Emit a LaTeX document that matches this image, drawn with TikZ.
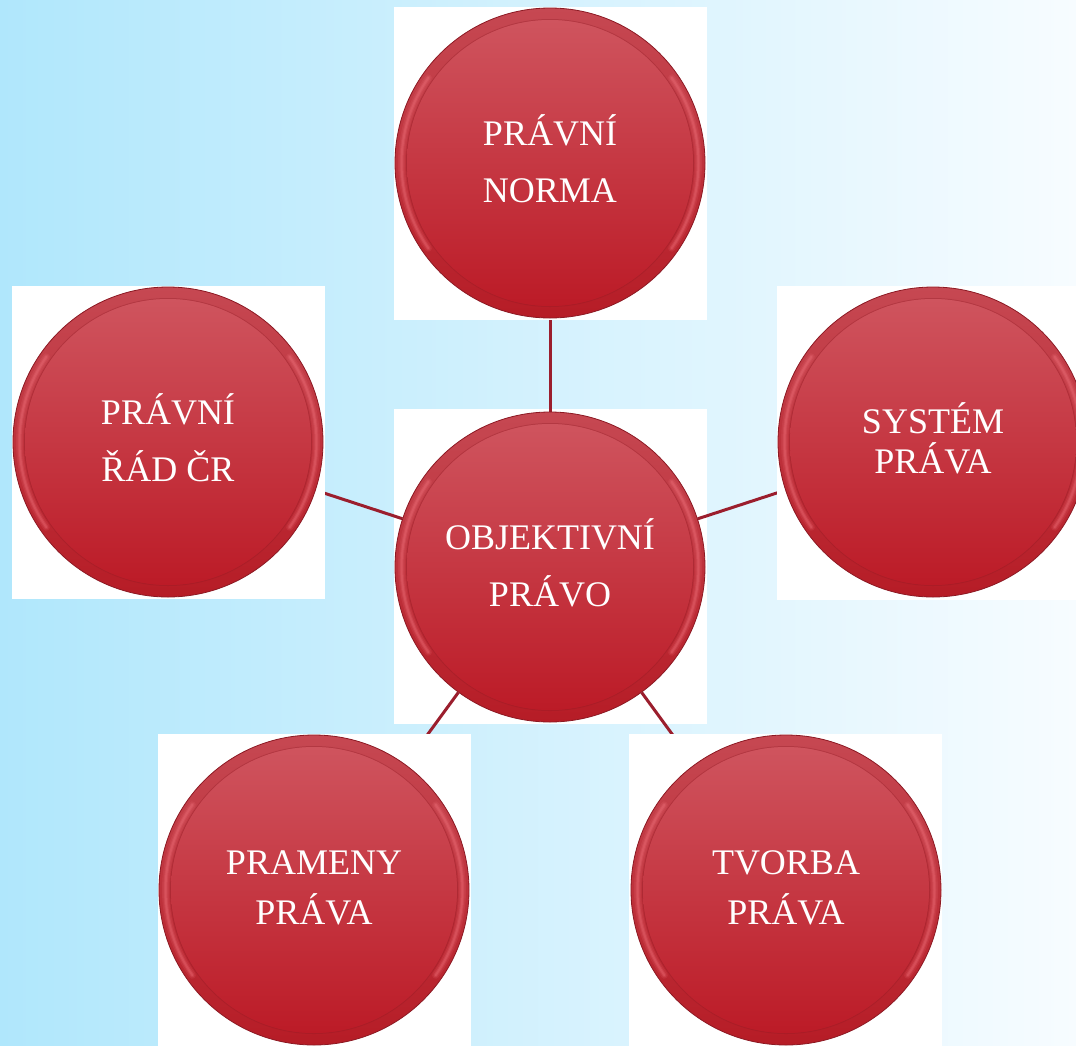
\documentclass[tikz,border=0pt]{standalone}
\usepackage{fontspec}
\setmainfont{Liberation Serif}
\pgfdeclarelayer{bgl}
\pgfdeclarelayer{linel}
\pgfdeclarelayer{boxl}
\pgfsetlayers{bgl,linel,boxl,main}
\definecolor{bgleft}{RGB}{176,231,252}
\definecolor{bgmid}{RGB}{220,244,253}
\definecolor{bgright}{RGB}{247,252,255}
\definecolor{rimtop}{RGB}{198,72,82}
\definecolor{rimmid}{RGB}{208,48,60}
\definecolor{rimbot}{RGB}{182,28,38}
\definecolor{hlpink}{RGB}{244,118,128}
\definecolor{discA}{RGB}{207,84,94}
\definecolor{discB}{RGB}{203,38,52}
\definecolor{discC}{RGB}{188,27,39}
\definecolor{edgered}{RGB}{140,25,35}
\definecolor{linkred}{RGB}{155,30,45}
\newcommand\padA{\rule[-8pt]{0pt}{8pt}}
\newcommand\padB{\rule[-5pt]{0pt}{5pt}}
\tikzset{
  hlarc/.style={hlpink, line cap=round},
  bubble/.style={circle, minimum size=310pt, inner sep=0pt, text=white, align=center,
    top color=rimtop, middle color=rimmid, bottom color=rimbot, draw=edgered, line width=0.8pt,
    path picture={
      \foreach \w/\o in {7/0.15, 4/0.2, 2/0.25}{
        \draw[hlarc, opacity=\o, line width=\w pt]
          ([shift={(145:148.5pt)}]path picture bounding box.center) arc[start angle=145, end angle=215, radius=148.5pt];
        \draw[hlarc, opacity=\o, line width=\w pt]
          ([shift={(-35:148.5pt)}]path picture bounding box.center) arc[start angle=-35, end angle=35, radius=148.5pt];
      }
      \draw[edgered, opacity=0.3, line width=1pt] (path picture bounding box.center) circle (143.5pt);
      \shade[top color=discA, middle color=discB, bottom color=discC]
        (path picture bounding box.center) circle (143pt);
    }},
  lsp/.style={font=\fontsize{36}{#1}\selectfont},
  link/.style={draw=linkred, line width=3pt},
  whitebox/.style={fill=white, draw=none},
}
\begin{document}
\begin{tikzpicture}[x=1pt,y=-1pt]
\useasboundingbox (0,0) rectangle (1076,1045);
\clip (0,0) rectangle (1076,1045);
\node[bubble, lsp=57] (top) at (550,163) {PRÁVNÍ\\NORMA\padA};
\node[bubble, lsp=57] (obj) at (550,567) {OBJEKTIVNÍ\\PRÁVO\padA};
\node[bubble, lsp=57] (rad) at (168,442) {PRÁVNÍ\\ŘÁD ČR\padA};
\node[bubble, lsp=40] (sys) at (933,442) {SYSTÉM\\PRÁVA\padA};
\node[bubble, lsp=50] (pram) at (314,890) {PRAMENY\\PRÁVA\padB};
\node[bubble, lsp=50] (tvor) at (786,890) {TVORBA\\PRÁVA\padB};
\begin{pgfonlayer}{bgl}
  \shade[left color=bgleft, middle color=bgmid, right color=bgright] (0,0) rectangle (1076,1045);
  \fill[whitebox] (393.5,409) rectangle (706.5,723.5);
\end{pgfonlayer}
\begin{pgfonlayer}{linel}
  \draw[link] (obj) -- (top);
  \draw[link] (obj) -- (rad);
  \draw[link] (obj) -- (sys);
  \draw[link] (obj) -- (pram);
  \draw[link] (obj) -- (tvor);
\end{pgfonlayer}
\begin{pgfonlayer}{boxl}
  \fill[whitebox] (393.5,6.5) rectangle (706.5,319.5);
  \fill[whitebox] (11.5,285.5) rectangle (324.5,598.5);
  \fill[whitebox] (776.5,285.5) rectangle (1089.5,599.5);
  \fill[whitebox] (157.5,733.5) rectangle (470.5,1046.5);
  \fill[whitebox] (628.5,733.5) rectangle (941.5,1046.5);
\end{pgfonlayer}
\end{tikzpicture}
\end{document}
